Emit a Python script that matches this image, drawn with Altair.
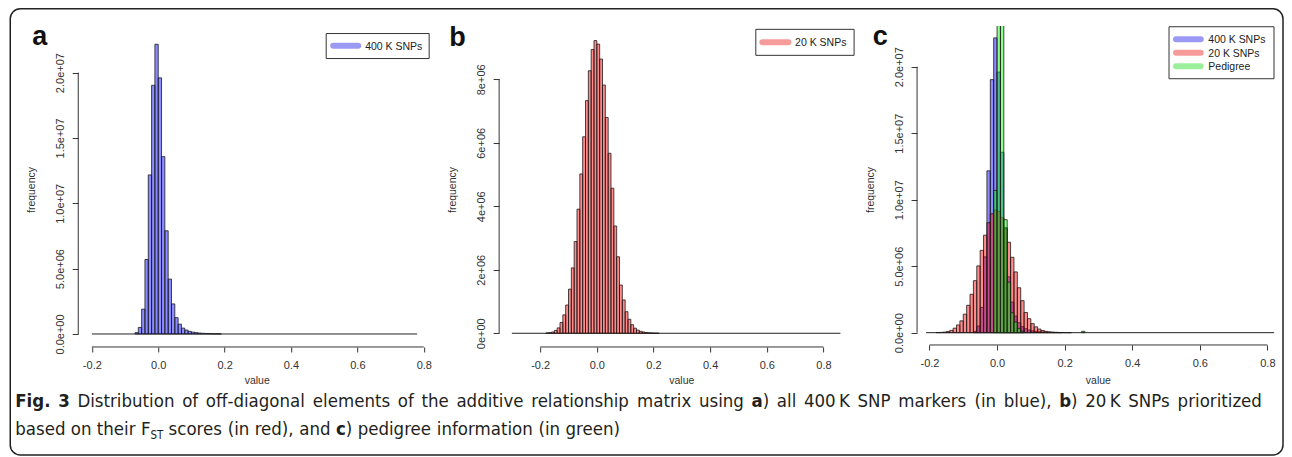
import altair as alt
import pandas as pd

# ---------------- data ----------------
BIN_WIDTH = 0.01

bins_400k = [-0.07, -0.06, -0.05, -0.04, -0.03, -0.02, -0.01, 0.00, 0.01, 0.02,
             0.03, 0.04, 0.05, 0.06, 0.07, 0.08, 0.09, 0.10, 0.11, 0.12,
             0.13, 0.14, 0.15, 0.16, 0.17, 0.18]
counts_400k = [1.0e5, 5.0e5, 1.9e6, 5.7e6, 1.217e7, 1.903e7, 2.217e7, 1.96e7, 1.357e7, 7.9e6,
               4.2e6, 2.3e6, 1.25e6, 7.5e5, 4.5e5, 3.0e5, 2.0e5, 1.4e5, 1.0e5, 7.0e4,
               5.0e4, 4.0e4, 3.0e4, 2.0e4, 1.5e4, 1.0e4]

bins_20k = [-0.18, -0.17, -0.16, -0.15, -0.14, -0.13, -0.12, -0.11, -0.10, -0.09,
            -0.08, -0.07, -0.06, -0.05, -0.04, -0.03, -0.02, -0.01, 0.00, 0.01,
            0.02, 0.03, 0.04, 0.05, 0.06, 0.07, 0.08, 0.09, 0.10, 0.11,
            0.12, 0.13, 0.14, 0.15, 0.16, 0.17, 0.18, 0.19, 0.20, 0.21]
counts_20k = [1.0e4, 2.0e4, 4.0e4, 9.0e4, 1.7e5, 3.4e5, 5.8e5, 8.9e5, 1.39e6, 2.06e6,
              2.89e6, 3.91e6, 5.02e6, 6.19e6, 7.33e6, 8.27e6, 8.94e6, 9.22e6, 9.11e6, 8.64e6,
              7.82e6, 6.80e6, 5.67e6, 4.57e6, 3.38e6, 2.41e6, 1.52e6, 1.05e6, 6.8e5, 4.4e5,
              2.7e5, 1.6e5, 1.0e5, 6.0e4, 4.0e4, 2.5e4, 1.5e4, 1.0e4, 6.0e3, 4.0e3]

bins_ped = [-0.01, 0.00, 0.01, 0.02, 0.03, 0.04, 0.05, 0.06, 0.07, 0.25]
counts_ped = [1.07e7, 2.8e7, 2.8e7, 8.5e6, 3.8e6, 1.5e6, 8.0e5, 3.0e5, 1.0e5, 1.0e5]

range_400k = [-0.20, 0.78]
range_20k = [-0.30, 0.86]
range_c = [-0.21, 0.82]

x_ticks = [-0.2, 0.0, 0.2, 0.4, 0.6, 0.8]
x_tick_labels = ["-0.2", "0.0", "0.2", "0.4", "0.6", "0.8"]
y_ticks_ac = [0, 5e6, 1e7, 1.5e7, 2e7]
y_tick_labels_ac = ["0.0e+00", "5.0e+06", "1.0e+07", "1.5e+07", "2.0e+07"]
y_ticks_b = [0, 2e6, 4e6, 6e6, 8e6]
y_tick_labels_b = ["0e+00", "2e+06", "4e+06", "6e+06", "8e+06"]

series_names = ["400 K SNPs", "20 K SNPs", "Pedigree"]
series_colors = ["#0000ff", "#ff0000", "#00ff00"]
legend_colors = ["#9a9af4", "#f79a9a", "#9af09a"]

# caption: words, each a list of (text, bold) pieces
caption_line1 = [[("Fig.", True)], [("3", True)], [("Distribution", False)], [("of", False)],
                 [("off-diagonal", False)], [("elements", False)], [("of", False)], [("the", False)],
                 [("additive", False)], [("relationship", False)], [("matrix", False)], [("using", False)],
                 [("a", True), (")", False)], [("all", False)], [("400\u2009K", False)], [("SNP", False)],
                 [("markers", False)], [("(in", False)], [("blue),", False)], [("b", True), (")", False)],
                 [("20\u2009K", False)], [("SNPs", False)], [("prioritized", False)]]
caption_line2 = [[("based", False)], [("on", False)], [("their", False)], [("F", False), ("ST", "sub")],
                 [("scores", False)], [("(in", False)], [("red),", False)], [("and", False)],
                 [("c", True), (")", False)], [("pedigree", False)], [("information", False)],
                 [("(in", False)], [("green)", False)]]

# ---------------- styling ----------------
FONT = "Liberation Sans"
CAP_FONT = "DejaVu Sans Condensed"
INK = "#333333"

# approximate advance widths of DejaVu Sans (units per 2048), condensed = 0.9x
_W = {' ': 651, '(': 799, ')': 799, ',': 651, '-': 739, '.': 651, '\u2009': 410}
_W.update({d: 1303 for d in "0123456789"})
_W.update(dict(zip("ABCDEFGHIJKLMNOPQRSTUVWXYZ",
                   [1401, 1405, 1430, 1577, 1294, 1178, 1587, 1540, 604, 604, 1343, 1141, 1767,
                    1532, 1612, 1235, 1612, 1423, 1300, 1251, 1499, 1401, 2025, 1403, 1251, 1403])))
_W.update(dict(zip("abcdefghijklmnopqrstuvwxyz",
                   [1255, 1300, 1126, 1300, 1260, 721, 1300, 1298, 569, 569, 1186, 569, 1995,
                    1298, 1253, 1300, 1300, 842, 1067, 803, 1298, 1212, 1675, 1212, 1212, 1075])))
_WB = dict(_W)
_WB.update({' ': 713, ')': 936, '.': 780, '3': 1425, 'F': 1399, 'i': 702, 'g': 1466,
            'a': 1382, 'b': 1466, 'c': 1214})
COND = 0.9


def text_px(s, bold, size):
    table = _WB if bold is True else _W
    return sum(table.get(ch, 1250) for ch in s) / 2048.0 * COND * size


def hist_df(bins, counts):
    return pd.DataFrame({"x": bins, "x2": [b + BIN_WIDTH for b in bins], "count": counts})


def label_expr(vals, labels):
    arr_l = "[" + ",".join("'%s'" % l for l in labels) + "]"
    arr_v = "[" + ",".join(repr(float(v)) for v in vals) + "]"
    return "%s[indexof(%s, datum.value)]" % (arr_l, arr_v)


def one():
    return pd.DataFrame({"k": [0]})


def txt(x, y, s, size=11, bold=False, font=FONT, angle=0, align="left", color=INK, baseline="alphabetic"):
    kw = dict(align=align, baseline=baseline, fontSize=size, font=font, color=color)
    if bold:
        kw["fontWeight"] = "bold"
    if angle:
        kw["angle"] = angle
    return alt.Chart(one()).mark_text(**kw).encode(
        x=alt.value(x), y=alt.value(y), text=alt.value(s))


def caption_layers(words, x_left, y, size, x_right=None):
    """Place caption words; justified between x_left and x_right if x_right is given."""
    sub_size = size * 0.62
    widths = []
    for w in words:
        widths.append(sum(text_px(s, b, sub_size if b == "sub" else size) for s, b in w))
    gaps = len(words) - 1
    if x_right is None:
        gap = text_px(" ", False, size)
    else:
        gap = (x_right - x_left - sum(widths)) / gaps
    out = []
    x = x_left
    for w, wd in zip(words, widths):
        xx = x
        for s, b in w:
            if b == "sub":
                out.append(txt(xx, y + 4.5, s, size=sub_size, font=CAP_FONT, color="#231f20"))
                xx += text_px(s, b, sub_size)
            else:
                out.append(txt(xx, y, s, size=size, bold=b, font=CAP_FONT, color="#231f20"))
                xx += text_px(s, b, size)
        x += wd + gap
    return out


def panel(W, H, xdom, ydom, hists, base_range, y_ticks, y_labels, letter, letter_pos,
          legend_idx, legend_box, value_x):
    xs = alt.Scale(domain=xdom, nice=False, zero=False)
    ys = alt.Scale(domain=ydom, nice=False, zero=False)
    xa = alt.Axis(values=x_ticks, labelExpr=label_expr(x_ticks, x_tick_labels), domain=False,
                  grid=False, tickSize=5, tickColor=INK, tickWidth=1, labelFontSize=11,
                  labelFont=FONT, labelColor=INK, labelPadding=17, labelBaseline="alphabetic",
                  labelFlush=False, labelOverlap=False, title=None)
    ya = alt.Axis(values=y_ticks, labelExpr=label_expr(y_ticks, y_labels), domain=False,
                  grid=False, tickSize=6, tickColor=INK, tickWidth=1, labelFontSize=11,
                  labelFont=FONT, labelColor=INK, labelAngle=270, labelAlign="center",
                  labelBaseline="alphabetic", labelPadding=9, labelFlush=False,
                  labelOverlap=False, title=None)

    layers = []
    base = pd.DataFrame({"x": [base_range[0]], "x2": [base_range[1]], "count": [0]})
    layers.append(alt.Chart(base).mark_rule(color="#222222", strokeWidth=1).encode(
        x=alt.X("x:Q", scale=xs, axis=xa), x2="x2:Q",
        y=alt.Y("count:Q", scale=ys, axis=ya)))
    for bins, counts, color, clip in hists:
        mk = dict(fill=color, fillOpacity=0.45, stroke="#1a1a1a", strokeWidth=0.8)
        if clip:
            mk["clip"] = True
        layers.append(alt.Chart(hist_df(bins, counts)).mark_rect(**mk).encode(
            x=alt.X("x:Q", scale=xs, axis=xa), x2="x2:Q",
            y=alt.Y("count:Q", scale=ys, axis=ya), y2=alt.datum(0)))
    # R style axis lines (from first to last tick)
    xl = pd.DataFrame({"x": [x_ticks[0]], "x2": [x_ticks[-1]]})
    layers.append(alt.Chart(xl).mark_rule(color=INK, strokeWidth=1).encode(
        x=alt.X("x:Q", scale=xs, axis=xa), x2="x2:Q", y=alt.value(H)))
    yl = pd.DataFrame({"count": [y_ticks[0]], "c2": [y_ticks[-1]]})
    layers.append(alt.Chart(yl).mark_rule(color=INK, strokeWidth=1).encode(
        y=alt.Y("count:Q", scale=ys, axis=ya), y2="c2:Q", x=alt.value(0)))
    # axis titles
    layers.append(txt(value_x, 358.5, "value", size=10.5, align="center"))
    layers.append(txt(-43, 164, "frequency", size=10.5, angle=270, align="center"))
    # panel letter
    layers.append(txt(letter_pos[0], letter_pos[1], letter, size=27, bold=True, color="#111111"))
    # legend
    bx0, bx1, by0, by1, sw0, sw1, tx, row0, dy = legend_box
    layers.append(alt.Chart(one()).mark_rect(fill="white", stroke=INK, strokeWidth=1).encode(
        x=alt.value(bx0), x2=alt.value(bx1), y=alt.value(by0), y2=alt.value(by1)))
    for j, i in enumerate(legend_idx):
        yy = row0 + j * dy
        layers.append(alt.Chart(one()).mark_rule(strokeWidth=6, strokeCap="round",
                                                 color=legend_colors[i]).encode(
            x=alt.value(sw0), x2=alt.value(sw1), y=alt.value(yy)))
        layers.append(txt(tx, yy + 4, series_names[i], size=10.5, color="#222222"))
    return layers


# ---------------- panels ----------------
TOP = 26
LEFT = 78
Wa, Ha = 358, 321
Wb, Hb = 355, 321
Wc, Hc = 357, 319

# panel a: 0.0 at 158px, 332 px/unit ; zero at 334px, 130.7 px / 1e7
xa_dom = [(78 - 158) / 332, (78 + Wa - 158) / 332]
ya_dom = [-(TOP + Ha - 334) / 130.7e-7, (334 - TOP) / 130.7e-7]
# panel b: 0.0 at 596.7px, 283.3 px/unit ; zero at 333.3px, 31.75 px / 1e6
xb_dom = [(499 - 596.7) / 283.3, (499 + Wb - 596.7) / 283.3]
yb_dom = [-(TOP + Hb - 333.3) / 31.75e-6, (333.3 - TOP) / 31.75e-6]
# panel c: 0.0 at 997px, 338 px/unit ; zero at 332.7px, 133 px / 1e7
xc_dom = [(917 - 997) / 338, (917 + Wc - 997) / 338]
yc_dom = [-(TOP + Hc - 332.7) / 133e-7, (332.7 - TOP) / 133e-7]

la = panel(Wa, Ha, xa_dom, ya_dom,
           [(bins_400k, counts_400k, series_colors[0], False)], range_400k,
           y_ticks_ac, y_tick_labels_ac, "a", (-46, 19), [0],
           (248, 351, 7.5, 32.5, 255, 280, 287, 19.7, 13.3), 179)
# frame + caption live in panel a's coordinate system
la.insert(0, alt.Chart(one()).mark_rect(fillOpacity=0, stroke="#222222", strokeWidth=1.5,
                                        cornerRadius=10).encode(
    x=alt.value(10 - LEFT), x2=alt.value(1283 - LEFT), y=alt.value(-17.25), y2=alt.value(429)))
CAP_SIZE = 18.5
la += caption_layers(caption_line1, 15 - LEFT, 407.5 - TOP, CAP_SIZE, x_right=1262 - LEFT)
la += caption_layers(caption_line2, 15 - LEFT, 435 - TOP, CAP_SIZE)

lb = panel(Wb, Hb, xb_dom, yb_dom,
           [(bins_20k, counts_20k, series_colors[1], False)], range_20k,
           y_ticks_b, y_tick_labels_b, "b", (-50, 20), [1],
           (256.7, 355, 3.3, 29.3, 263.3, 289.3, 296, 16.3, 13.3), 182.7)

lc = panel(Wc, Hc, xc_dom, yc_dom,
           [(bins_400k, counts_400k, series_colors[0], False),
            (bins_20k, counts_20k, series_colors[1], True),
            (bins_ped, counts_ped, series_colors[2], True)], range_c,
           y_ticks_ac, y_tick_labels_ac, "c", (-44.3, 19), [0, 1, 2],
           (252, 357, 0.7, 52.7, 259, 283.7, 291.3, 13.3, 13.4), 181.3)

pa = alt.layer(*la).properties(width=Wa, height=Ha)
pb = alt.layer(*lb).properties(width=Wb, height=Hb)
pc = alt.layer(*lc).properties(width=Wc, height=Hc)

chart = alt.concat(pa, pb, pc, columns=3, spacing=63, bounds="flush", align="none").properties(
    padding={"left": 1.25, "top": 0, "right": 0, "bottom": 0}
).configure_view(strokeWidth=0)

chart.save("out.html", embed_options={"renderer": "svg", "actions": False})
